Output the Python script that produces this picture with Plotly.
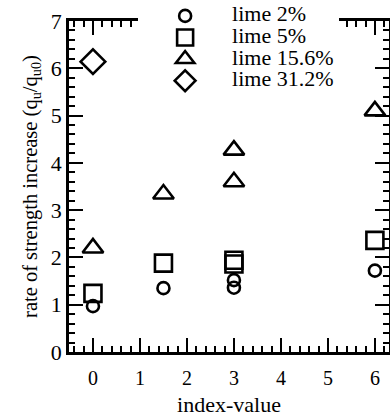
import plotly.graph_objects as go

# index-value of each test and the measured strength ratio q_u/q_u0
x_lime2 = [0, 1.5, 3, 3, 6]
y_lime2 = [0.97, 1.35, 1.52, 1.36, 1.72]

x_lime5 = [0, 1.5, 3, 3, 6]
y_lime5 = [1.24, 1.88, 1.94, 1.86, 2.36]

x_lime156 = [0, 1.5, 3, 3, 6]
y_lime156 = [2.2, 3.34, 4.27, 3.6, 5.1]

x_lime312 = [0]
y_lime312 = [6.14]

series_names = ["lime 2%", "lime 5%", "lime 15.6%", "lime 31.2%"]

SERIF = "Liberation Serif, Times New Roman, serif"

series = [
    (x_lime2, y_lime2, "circle-open", 12),
    (x_lime5, y_lime5, "square-open", 17),
    (x_lime156, y_lime156, "triangle-up-open", 18),
    (x_lime312, y_lime312, "diamond-open", 19),
]

fig = go.Figure()
for name, (xs, ys, sym, size) in zip(series_names, series):
    fig.add_trace(go.Scatter(
        x=xs, y=ys, mode="markers",
        name='<span style="font-size:22px">%s</span>' % name,
        marker=dict(symbol=sym, size=size, color="black",
                    line=dict(color="black", width=2.6)),
    ))

# framed axes with inward major/minor ticks repeated on the opposite side
axis_common = dict(
    showline=True, linecolor="black", linewidth=2.5, mirror="ticks",
    ticks="inside", ticklen=14, tickwidth=2, tickcolor="black",
    showgrid=False, zeroline=False, automargin=False,
    tickmode="linear", tick0=0, dtick=1,
    minor=dict(ticks="inside", ticklen=6, tickwidth=1.5, tickcolor="black",
               dtick=0.2, tick0=0, showgrid=False),
)

fig.update_xaxes(
    range=[-0.51, 6.3],
    tickfont=dict(family=SERIF, size=20, color="black"),
    ticklabelstandoff=6,
    title=dict(text="index-value", font=dict(family=SERIF, size=22, color="black"),
               standoff=10),
    **axis_common,
)
fig.update_yaxes(
    range=[0, 7],
    tickfont=dict(family=SERIF, size=22, color="black"),
    title=dict(text="rate of strength increase (q<sub>u</sub>/q<sub>u0</sub>)",
               font=dict(family=SERIF, size=20.5, color="black"), standoff=8),
    **axis_common,
)

fig.update_layout(
    template="simple_white",
    width=390, height=417,
    margin=dict(l=69, r=1, t=20, b=65),
    paper_bgcolor="white", plot_bgcolor="white",
    font=dict(family=SERIF, color="black"),
    showlegend=True,
    legend=dict(
        x=0.216, y=1.06,
        xanchor="left", yanchor="top",
        bgcolor="white", borderwidth=0,
        font=dict(family=SERIF, size=14.3, color="black"),
        itemwidth=84, tracegroupgap=0,
    ),
)

fig.write_html("out.html")
